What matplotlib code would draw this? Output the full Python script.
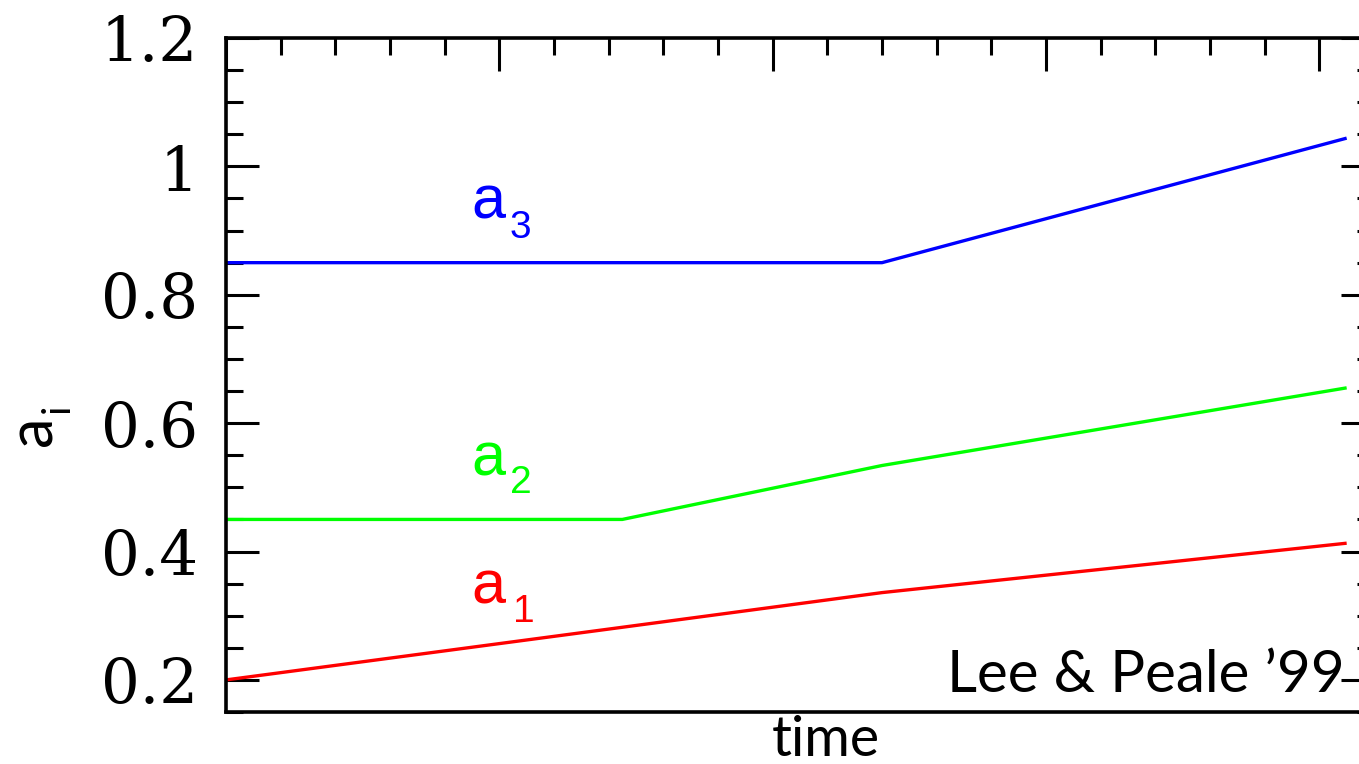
import matplotlib
matplotlib.use("Agg")
import matplotlib.pyplot as plt
from matplotlib.ticker import MultipleLocator, FixedLocator, FixedFormatter

# Semi-major axes of the three planets during migration (arbitrary time units)
time_pts = [0.0, 1.45, 2.4, 4.1]
a1 = [0.200, 0.282, 0.336, 0.413]
a2 = [0.450, 0.450, 0.534, 0.655]
a3 = [0.850, 0.850, 0.850, 1.044]

series_names = ["1", "2", "3"]
series_colors = ["#ff0000", "#00ff00", "#0000ff"]

y_ticks = [0.2, 0.4, 0.6, 0.8, 1.0, 1.2]
y_tick_labels = ["0.2", "0.4", "0.6", "0.8", "1", "1.2"]

W, H, DPI = 1359, 764, 100
fig = plt.figure(figsize=(W / DPI, H / DPI), dpi=DPI)
fig.patch.set_facecolor("white")

# axes box runs slightly past the right edge of the figure
ax = fig.add_axes([226 / W, 52 / H, 1148 / W, 674 / H])
ax.set_xlim(0, 4.2)
ax.set_ylim(0.15, 1.2)

for y, c in zip([a1, a2, a3], series_colors):
    ax.plot(time_pts, y, color=c, lw=2.4, solid_joinstyle="round",
            solid_capstyle="butt")

# curve labels: letter plus a lowered index (letter x, letter y, index x, index y)
label_pos = [(0.899, 0.319, 1.049, 0.290),
             (0.899, 0.519, 1.038, 0.491),
             (0.899, 0.919, 1.038, 0.888)]
for (xa, ya, xs, ys), name, c in zip(label_pos, series_names, series_colors):
    ax.text(xa, ya, "a", color=c, fontsize=44, family="Liberation Sans",
            ha="left", va="baseline")
    ax.text(xs, ys, name, color=c, fontsize=28, family="Liberation Sans",
            ha="left", va="baseline")

# ticks: inward, top and both sides, no bottom ticks
ax.yaxis.set_major_locator(FixedLocator(y_ticks))
ax.yaxis.set_major_formatter(FixedFormatter(y_tick_labels))
ax.yaxis.set_minor_locator(MultipleLocator(0.05))
ax.xaxis.set_major_locator(MultipleLocator(1.0))
ax.xaxis.set_minor_locator(MultipleLocator(0.2))
ax.tick_params(axis="y", which="both", direction="in", left=True, right=True,
               labelleft=True, width=2.2, pad=20)
ax.tick_params(axis="y", which="major", length=23.5)
ax.tick_params(axis="y", which="minor", length=12)
ax.tick_params(axis="x", which="both", direction="in", top=True, bottom=False,
               labelbottom=False, labeltop=False, width=2.2)
ax.tick_params(axis="x", which="major", length=23.5)
ax.tick_params(axis="x", which="minor", length=12)
for lab in ax.get_yticklabels():
    lab.set_family("DejaVu Serif")
    lab.set_fontsize(44)

for s in ax.spines.values():
    s.set_linewidth(2.6)
    s.set_color("black")

# axis titles
fig.text(826 / W, 1 - 756 / H, "time", fontsize=40, family="Lato",
         ha="center", va="baseline")
fig.text(62 / W, 1 - 446 / H, "a", fontsize=44, family="Lato",
         rotation=90, ha="right", va="bottom")
fig.text(76 / W, 1 - 413 / H, "i", fontsize=28, family="Lato",
         rotation=90, ha="right", va="bottom")

fig.text(1345 / W, 1 - 692 / H, "Lee & Peale \u201999", fontsize=42,
         family="Lato", ha="right", va="baseline")

fig.savefig("out.png", dpi=DPI, facecolor="white")
